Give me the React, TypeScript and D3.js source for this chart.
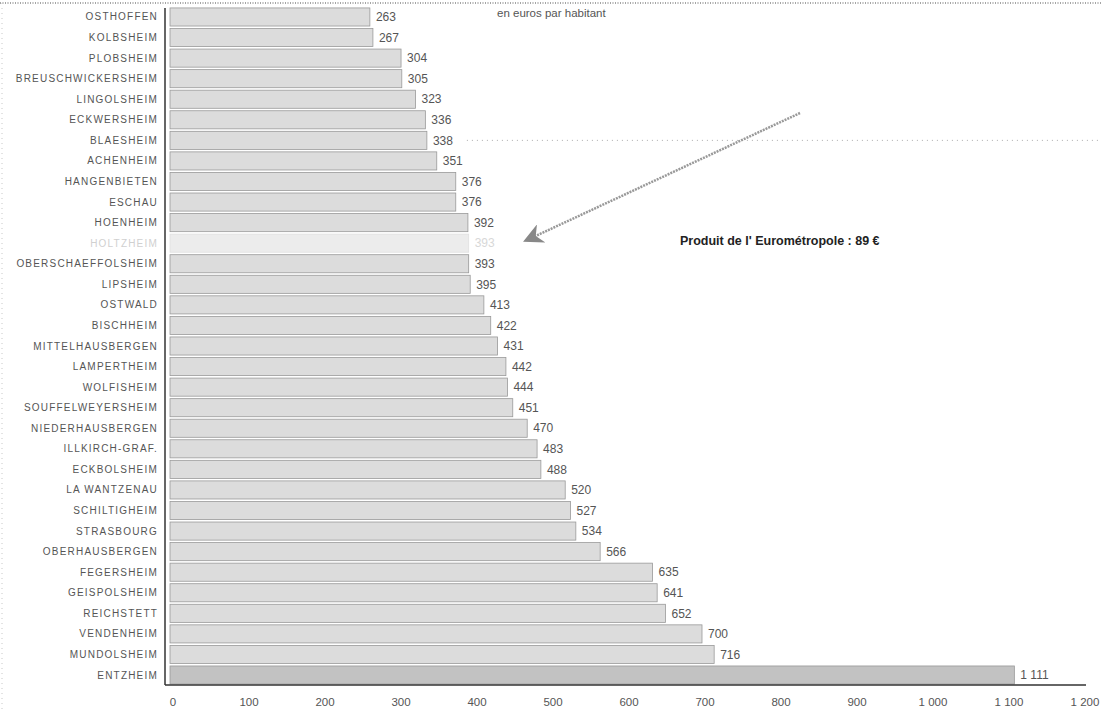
import * as d3 from "d3";

const COMMUNES = [
  "OSTHOFFEN", "KOLBSHEIM", "PLOBSHEIM", "BREUSCHWICKERSHEIM", "LINGOLSHEIM",
  "ECKWERSHEIM", "BLAESHEIM", "ACHENHEIM", "HANGENBIETEN", "ESCHAU", "HOENHEIM",
  "HOLTZHEIM", "OBERSCHAEFFOLSHEIM", "LIPSHEIM", "OSTWALD", "BISCHHEIM",
  "MITTELHAUSBERGEN", "LAMPERTHEIM", "WOLFISHEIM", "SOUFFELWEYERSHEIM",
  "NIEDERHAUSBERGEN", "ILLKIRCH-GRAF.", "ECKBOLSHEIM", "LA WANTZENAU",
  "SCHILTIGHEIM", "STRASBOURG", "OBERHAUSBERGEN", "FEGERSHEIM", "GEISPOLSHEIM",
  "REICHSTETT", "VENDENHEIM", "MUNDOLSHEIM", "ENTZHEIM",
];

const VALUES = [
  263, 267, 304, 305, 323, 336, 338, 351, 376, 376, 392, 393, 393, 395, 413,
  422, 431, 442, 444, 451, 470, 483, 488, 520, 527, 534, 566, 635, 641, 652,
  700, 716, 1111,
];

const X_TICKS = [0, 100, 200, 300, 400, 500, 600, 700, 800, 900, 1000, 1100, 1200];

const HIGHLIGHT = "HOLTZHEIM";
const SUBTITLE = "en euros par habitant";
const NOTE = "Produit de l' Eurométropole : 89 €";

const W = 1101;
const H = 712;
const FONT = "'Liberation Sans', Arial, sans-serif";
const TEXT = "#555";

// French thousands: "1 111"
const fmt = (v: number) => d3.format(",")(v).replace(",", " ");

export default function App() {
  const x = d3.scaleLinear().domain([0, 1200]).range([170, 1082]);
  const y = d3
    .scaleBand()
    .domain(COMMUNES)
    .range([6.7, 685.3])
    .paddingInner(0.12)
    .paddingOuter(0.06);

  const axisY = 685;
  const hlIdx = COMMUNES.indexOf(HIGHLIGHT);
  const hlY = (y(HIGHLIGHT) ?? 0) + y.bandwidth() / 2;
  const arrowEnd: [number, number] = [x(VALUES[hlIdx]) + 58, hlY - 3];
  const arrowStart: [number, number] = [800, 113];
  const blaesY = (y("BLAESHEIM") ?? 0) + y.bandwidth() / 2;

  return (
    <svg
      width={W}
      height={H}
      style={{ position: "absolute", left: 0, top: 0, background: "#fff" }}
      fontFamily={FONT}
    >
      {/* dotted scan frame */}
      <line x1={0} x2={W} y1={3} y2={3} stroke="#888" strokeDasharray="1 1.5" strokeWidth={1.5} />
      <line x1={2} x2={2} y1={3} y2={H} stroke="#c8c8c8" strokeDasharray="1 4" />
      <line
        x1={x(VALUES[6]) + 40}
        x2={W}
        y1={blaesY}
        y2={blaesY}
        stroke="#aaa"
        strokeDasharray="1 4"
      />

      {/* bars */}
      {COMMUNES.map((c, i) => {
        const hl = c === HIGHLIGHT;
        const last = i === COMMUNES.length - 1;
        return (
          <g key={c}>
            <rect
              x={x(0)}
              y={y(c)}
              width={x(VALUES[i]) - x(0)}
              height={y.bandwidth()}
              fill={hl ? "#ececec" : last ? "#c2c2c2" : "#dcdcdc"}
              stroke={hl ? "#e0e0e0" : "#999"}
              strokeWidth={0.8}
            />
            <text
              x={158}
              y={(y(c) ?? 0) + y.bandwidth() / 2}
              dy="0.35em"
              textAnchor="end"
              fontSize={10}
              letterSpacing={1.2}
              fill={hl ? "#d0d0d0" : TEXT}
            >
              {c}
            </text>
            <text
              x={x(VALUES[i]) + 6}
              y={(y(c) ?? 0) + y.bandwidth() / 2}
              dy="0.35em"
              fontSize={12}
              fill={hl ? "#d8d8d8" : TEXT}
            >
              {fmt(VALUES[i])}
            </text>
          </g>
        );
      })}

      {/* axes */}
      <line x1={165} x2={165} y1={8} y2={axisY} stroke="#333" strokeWidth={1.5} />
      <line x1={165} x2={x(1200) + 4} y1={axisY} y2={axisY} stroke="#333" strokeWidth={1.5} />
      {X_TICKS.map((t) => (
        <text
          key={t}
          x={x(t) + 3}
          y={702}
          dy="0.35em"
          textAnchor="middle"
          fontSize={11.5}
          fill={TEXT}
        >
          {fmt(t)}
        </text>
      ))}

      {/* annotations */}
      <text x={497} y={13} dy="0.35em" fontSize={11.5} fill={TEXT}>
        {SUBTITLE}
      </text>
      <defs>
        <marker id="ah" viewBox="0 0 10 10" refX="8" refY="5" markerWidth="8" markerHeight="8" orient="auto">
          <path d="M0,0 L10,5 L0,10 L3,5 Z" fill="#888" />
        </marker>
      </defs>
      <line
        x1={arrowStart[0]}
        y1={arrowStart[1]}
        x2={arrowEnd[0]}
        y2={arrowEnd[1]}
        stroke="#999"
        strokeWidth={2.5}
        strokeDasharray="2 1"
        markerEnd="url(#ah)"
      />
      <text x={680} y={241} dy="0.35em" fontSize={12.5} fontWeight="bold" fill="#222">
        {NOTE}
      </text>
    </svg>
  );
}
